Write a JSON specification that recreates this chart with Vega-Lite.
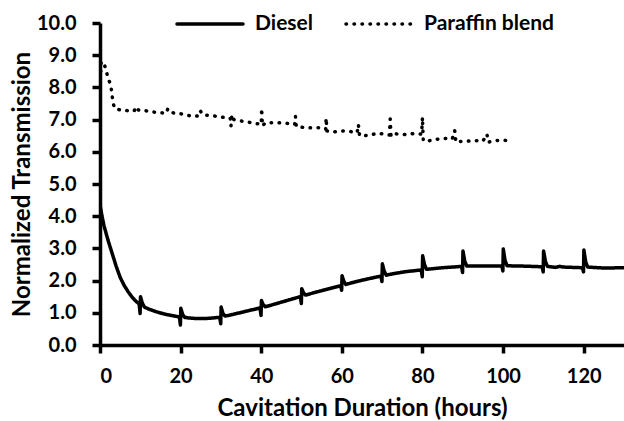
{
  "$schema": "https://vega.github.io/schema/vega-lite/v6.json",
  "autosize": "none",
  "width": 524,
  "height": 322,
  "padding": {"left": 100, "top": 23, "right": 0, "bottom": 76},
  "background": "white",
  "config": {
    "view": {"stroke": null},
    "font": "Lato",
    "axis": {
      "domainColor": "black", "domainWidth": 3.5, "tickColor": "black", "tickWidth": 3.5, "tickSize": 8,
      "labelFont": "Lato", "labelFontWeight": "bold", "labelFontSize": 20, "labelColor": "black",
      "titleFont": "Lato", "titleFontWeight": "bold", "titleFontSize": 24, "titleColor": "black",
      "grid": false
    }
  },
  "data": {"values": [
    {"x": 0, "y": 4.35, "s": "Diesel"},
    {"x": 0.5, "y": 4.0, "s": "Diesel"},
    {"x": 1, "y": 3.7, "s": "Diesel"},
    {"x": 2, "y": 3.25, "s": "Diesel"},
    {"x": 3, "y": 2.85, "s": "Diesel"},
    {"x": 4, "y": 2.45, "s": "Diesel"},
    {"x": 5, "y": 2.1, "s": "Diesel"},
    {"x": 6, "y": 1.85, "s": "Diesel"},
    {"x": 7, "y": 1.65, "s": "Diesel"},
    {"x": 8, "y": 1.48, "s": "Diesel"},
    {"x": 9, "y": 1.35, "s": "Diesel"},
    {"x": 9.7, "y": 1.28, "s": "Diesel"},
    {"x": 9.95, "y": 0.98, "s": "Diesel"},
    {"x": 10.05, "y": 1.5, "s": "Diesel"},
    {"x": 10.5, "y": 1.3, "s": "Diesel"},
    {"x": 11, "y": 1.18, "s": "Diesel"},
    {"x": 12, "y": 1.12, "s": "Diesel"},
    {"x": 14, "y": 1.03, "s": "Diesel"},
    {"x": 16, "y": 0.96, "s": "Diesel"},
    {"x": 18, "y": 0.91, "s": "Diesel"},
    {"x": 19.7, "y": 0.87, "s": "Diesel"},
    {"x": 19.95, "y": 0.62, "s": "Diesel"},
    {"x": 20.05, "y": 1.14, "s": "Diesel"},
    {"x": 20.5, "y": 0.95, "s": "Diesel"},
    {"x": 21, "y": 0.86, "s": "Diesel"},
    {"x": 22, "y": 0.84, "s": "Diesel"},
    {"x": 24, "y": 0.82, "s": "Diesel"},
    {"x": 26, "y": 0.82, "s": "Diesel"},
    {"x": 28, "y": 0.84, "s": "Diesel"},
    {"x": 29.7, "y": 0.86, "s": "Diesel"},
    {"x": 29.95, "y": 0.66, "s": "Diesel"},
    {"x": 30.05, "y": 1.18, "s": "Diesel"},
    {"x": 30.5, "y": 0.98, "s": "Diesel"},
    {"x": 31, "y": 0.9, "s": "Diesel"},
    {"x": 32, "y": 0.92, "s": "Diesel"},
    {"x": 34, "y": 0.98, "s": "Diesel"},
    {"x": 36, "y": 1.04, "s": "Diesel"},
    {"x": 38, "y": 1.1, "s": "Diesel"},
    {"x": 39.7, "y": 1.15, "s": "Diesel"},
    {"x": 39.95, "y": 0.92, "s": "Diesel"},
    {"x": 40.05, "y": 1.38, "s": "Diesel"},
    {"x": 40.5, "y": 1.25, "s": "Diesel"},
    {"x": 41, "y": 1.19, "s": "Diesel"},
    {"x": 42, "y": 1.22, "s": "Diesel"},
    {"x": 45, "y": 1.33, "s": "Diesel"},
    {"x": 48, "y": 1.44, "s": "Diesel"},
    {"x": 49.7, "y": 1.5, "s": "Diesel"},
    {"x": 49.95, "y": 1.29, "s": "Diesel"},
    {"x": 50.05, "y": 1.75, "s": "Diesel"},
    {"x": 50.5, "y": 1.62, "s": "Diesel"},
    {"x": 51, "y": 1.55, "s": "Diesel"},
    {"x": 53, "y": 1.62, "s": "Diesel"},
    {"x": 56, "y": 1.72, "s": "Diesel"},
    {"x": 59.7, "y": 1.84, "s": "Diesel"},
    {"x": 59.95, "y": 1.7, "s": "Diesel"},
    {"x": 60.05, "y": 2.15, "s": "Diesel"},
    {"x": 60.5, "y": 1.98, "s": "Diesel"},
    {"x": 61, "y": 1.88, "s": "Diesel"},
    {"x": 63, "y": 1.95, "s": "Diesel"},
    {"x": 66, "y": 2.04, "s": "Diesel"},
    {"x": 69.7, "y": 2.14, "s": "Diesel"},
    {"x": 69.95, "y": 1.97, "s": "Diesel"},
    {"x": 70.05, "y": 2.52, "s": "Diesel"},
    {"x": 70.5, "y": 2.3, "s": "Diesel"},
    {"x": 71, "y": 2.17, "s": "Diesel"},
    {"x": 73, "y": 2.22, "s": "Diesel"},
    {"x": 76, "y": 2.28, "s": "Diesel"},
    {"x": 79.7, "y": 2.33, "s": "Diesel"},
    {"x": 79.95, "y": 2.12, "s": "Diesel"},
    {"x": 80.05, "y": 2.77, "s": "Diesel"},
    {"x": 80.5, "y": 2.5, "s": "Diesel"},
    {"x": 81, "y": 2.35, "s": "Diesel"},
    {"x": 85, "y": 2.4, "s": "Diesel"},
    {"x": 89.7, "y": 2.44, "s": "Diesel"},
    {"x": 89.95, "y": 2.25, "s": "Diesel"},
    {"x": 90.05, "y": 2.92, "s": "Diesel"},
    {"x": 90.5, "y": 2.6, "s": "Diesel"},
    {"x": 91, "y": 2.45, "s": "Diesel"},
    {"x": 95, "y": 2.45, "s": "Diesel"},
    {"x": 99.7, "y": 2.45, "s": "Diesel"},
    {"x": 99.95, "y": 2.3, "s": "Diesel"},
    {"x": 100.05, "y": 2.98, "s": "Diesel"},
    {"x": 100.5, "y": 2.62, "s": "Diesel"},
    {"x": 101, "y": 2.46, "s": "Diesel"},
    {"x": 105, "y": 2.45, "s": "Diesel"},
    {"x": 109.7, "y": 2.43, "s": "Diesel"},
    {"x": 109.95, "y": 2.27, "s": "Diesel"},
    {"x": 110.05, "y": 2.92, "s": "Diesel"},
    {"x": 110.5, "y": 2.6, "s": "Diesel"},
    {"x": 111, "y": 2.44, "s": "Diesel"},
    {"x": 113, "y": 2.41, "s": "Diesel"},
    {"x": 114, "y": 2.44, "s": "Diesel"},
    {"x": 115, "y": 2.42, "s": "Diesel"},
    {"x": 119.7, "y": 2.4, "s": "Diesel"},
    {"x": 119.95, "y": 2.27, "s": "Diesel"},
    {"x": 120.05, "y": 2.95, "s": "Diesel"},
    {"x": 120.5, "y": 2.58, "s": "Diesel"},
    {"x": 121, "y": 2.42, "s": "Diesel"},
    {"x": 125, "y": 2.39, "s": "Diesel"},
    {"x": 130, "y": 2.4, "s": "Diesel"},
    {"x": 0, "y": 8.0, "s": "Paraffin blend"},
    {"x": 0.3, "y": 8.8, "s": "Paraffin blend"},
    {"x": 1, "y": 8.75, "s": "Paraffin blend"},
    {"x": 2, "y": 8.3, "s": "Paraffin blend"},
    {"x": 2.7, "y": 8.05, "s": "Paraffin blend"},
    {"x": 3.2, "y": 7.55, "s": "Paraffin blend"},
    {"x": 3.6, "y": 7.35, "s": "Paraffin blend"},
    {"x": 5, "y": 7.3, "s": "Paraffin blend"},
    {"x": 7.5, "y": 7.27, "s": "Paraffin blend"},
    {"x": 8.5, "y": 7.27, "s": "Paraffin blend"},
    {"x": 8.8, "y": 7.4, "s": "Paraffin blend"},
    {"x": 9.5, "y": 7.3, "s": "Paraffin blend"},
    {"x": 11, "y": 7.28, "s": "Paraffin blend"},
    {"x": 14, "y": 7.22, "s": "Paraffin blend"},
    {"x": 16.5, "y": 7.2, "s": "Paraffin blend"},
    {"x": 16.8, "y": 7.33, "s": "Paraffin blend"},
    {"x": 17.5, "y": 7.22, "s": "Paraffin blend"},
    {"x": 20, "y": 7.18, "s": "Paraffin blend"},
    {"x": 23, "y": 7.1, "s": "Paraffin blend"},
    {"x": 24.6, "y": 7.12, "s": "Paraffin blend"},
    {"x": 24.9, "y": 7.27, "s": "Paraffin blend"},
    {"x": 25.5, "y": 7.15, "s": "Paraffin blend"},
    {"x": 28, "y": 7.12, "s": "Paraffin blend"},
    {"x": 30.5, "y": 7.07, "s": "Paraffin blend"},
    {"x": 32.3, "y": 7.05, "s": "Paraffin blend"},
    {"x": 32.5, "y": 6.8, "s": "Paraffin blend"},
    {"x": 32.7, "y": 7.15, "s": "Paraffin blend"},
    {"x": 33.2, "y": 7.0, "s": "Paraffin blend"},
    {"x": 35.3, "y": 6.95, "s": "Paraffin blend"},
    {"x": 38.7, "y": 6.88, "s": "Paraffin blend"},
    {"x": 40, "y": 6.85, "s": "Paraffin blend"},
    {"x": 40.1, "y": 7.35, "s": "Paraffin blend"},
    {"x": 40.3, "y": 6.8, "s": "Paraffin blend"},
    {"x": 41, "y": 6.9, "s": "Paraffin blend"},
    {"x": 44.4, "y": 6.9, "s": "Paraffin blend"},
    {"x": 46.8, "y": 6.88, "s": "Paraffin blend"},
    {"x": 48.3, "y": 6.85, "s": "Paraffin blend"},
    {"x": 48.5, "y": 7.1, "s": "Paraffin blend"},
    {"x": 48.7, "y": 6.78, "s": "Paraffin blend"},
    {"x": 49.5, "y": 6.78, "s": "Paraffin blend"},
    {"x": 51, "y": 6.74, "s": "Paraffin blend"},
    {"x": 54.3, "y": 6.75, "s": "Paraffin blend"},
    {"x": 56, "y": 6.7, "s": "Paraffin blend"},
    {"x": 56.1, "y": 7.05, "s": "Paraffin blend"},
    {"x": 56.3, "y": 6.65, "s": "Paraffin blend"},
    {"x": 58.3, "y": 6.62, "s": "Paraffin blend"},
    {"x": 60, "y": 6.65, "s": "Paraffin blend"},
    {"x": 62, "y": 6.63, "s": "Paraffin blend"},
    {"x": 63.8, "y": 6.6, "s": "Paraffin blend"},
    {"x": 64.1, "y": 6.85, "s": "Paraffin blend"},
    {"x": 64.4, "y": 6.5, "s": "Paraffin blend"},
    {"x": 65.4, "y": 6.5, "s": "Paraffin blend"},
    {"x": 67.2, "y": 6.52, "s": "Paraffin blend"},
    {"x": 68.8, "y": 6.58, "s": "Paraffin blend"},
    {"x": 70.4, "y": 6.55, "s": "Paraffin blend"},
    {"x": 71.8, "y": 6.52, "s": "Paraffin blend"},
    {"x": 72, "y": 7.02, "s": "Paraffin blend"},
    {"x": 72.2, "y": 6.48, "s": "Paraffin blend"},
    {"x": 73, "y": 6.56, "s": "Paraffin blend"},
    {"x": 74.6, "y": 6.55, "s": "Paraffin blend"},
    {"x": 76.2, "y": 6.53, "s": "Paraffin blend"},
    {"x": 77.9, "y": 6.57, "s": "Paraffin blend"},
    {"x": 79.8, "y": 6.55, "s": "Paraffin blend"},
    {"x": 80, "y": 7.07, "s": "Paraffin blend"},
    {"x": 80.2, "y": 6.34, "s": "Paraffin blend"},
    {"x": 81.6, "y": 6.34, "s": "Paraffin blend"},
    {"x": 83.2, "y": 6.38, "s": "Paraffin blend"},
    {"x": 85.2, "y": 6.42, "s": "Paraffin blend"},
    {"x": 87.4, "y": 6.4, "s": "Paraffin blend"},
    {"x": 88, "y": 6.66, "s": "Paraffin blend"},
    {"x": 88.3, "y": 6.3, "s": "Paraffin blend"},
    {"x": 89.2, "y": 6.32, "s": "Paraffin blend"},
    {"x": 91.2, "y": 6.33, "s": "Paraffin blend"},
    {"x": 93, "y": 6.35, "s": "Paraffin blend"},
    {"x": 95, "y": 6.33, "s": "Paraffin blend"},
    {"x": 96, "y": 6.55, "s": "Paraffin blend"},
    {"x": 96.3, "y": 6.3, "s": "Paraffin blend"},
    {"x": 98.3, "y": 6.35, "s": "Paraffin blend"},
    {"x": 100, "y": 6.36, "s": "Paraffin blend"},
    {"x": 102, "y": 6.34, "s": "Paraffin blend"}
  ]},
  "mark": {"type": "line", "color": "black", "strokeWidth": 3.5, "strokeCap": "round", "strokeJoin": "round", "clip": true},
  "encoding": {
    "x": {"field": "x", "type": "quantitative", "title": "Cavitation Duration (hours)",
      "scale": {"domain": [0, 130], "nice": false},
      "axis": {"values": [0, 20, 40, 60, 80, 100, 120], "labelPadding": 13, "titlePadding": 10}},
    "y": {"field": "y", "type": "quantitative", "title": "Normalized Transmission",
      "scale": {"domain": [0, 10], "nice": false},
      "axis": {"values": [0, 1, 2, 3, 4, 5, 6, 7, 8, 9, 10], "format": ".1f", "labelPadding": 16, "titlePadding": 2}},
    "strokeDash": {"field": "s", "type": "nominal",
      "scale": {"domain": ["Diesel", "Paraffin blend"], "range": [[1, 0], [0.5, 7.5]]},
      "legend": {"title": null, "orient": "none", "direction": "horizontal", "legendX": 75, "legendY": -34,
        "symbolType": "stroke", "symbolSize": 4356, "symbolStrokeWidth": 3.5, "symbolStrokeColor": "black",
        "labelFont": "Lato", "labelFontWeight": "bold", "labelFontSize": 21, "labelColor": "black",
        "columnPadding": 25, "labelOffset": 10,
        "encode": {"symbols": {"update": {"strokeCap": {"value": "round"}}}}}}
  }
}
